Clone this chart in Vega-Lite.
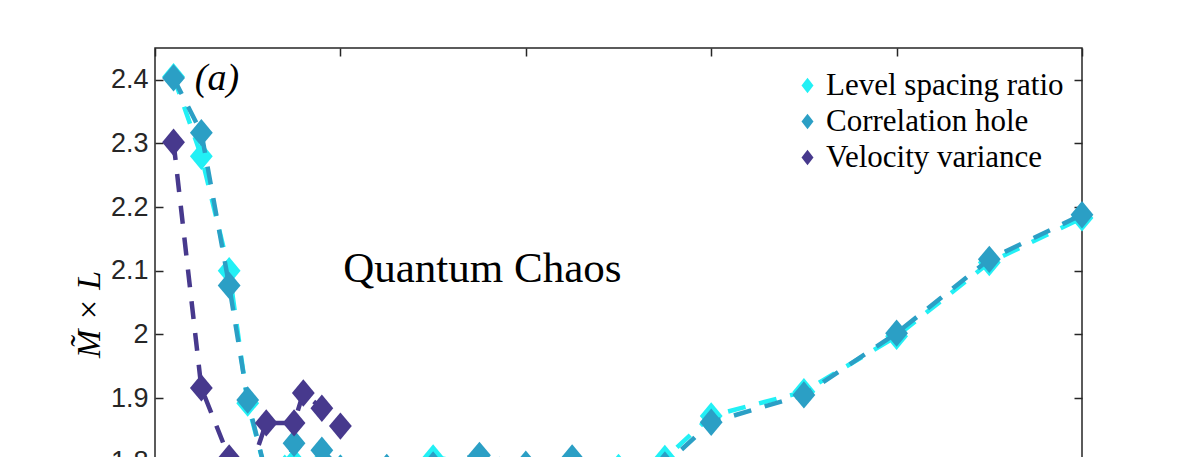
{
  "$schema": "https://vega.github.io/schema/vega-lite/v6.json",
  "width": 927,
  "height": 541,
  "autosize": {"type": "none"},
  "padding": {"left": 155, "top": 48, "right": 114, "bottom": 60},
  "background": "white",
  "config": {
    "view": {"stroke": "#262626", "strokeWidth": 1.5},
    "axis": {
      "grid": false,
      "domain": false,
      "tickSize": -8,
      "tickColor": "#262626",
      "tickWidth": 1.5,
      "labelFont": "Liberation Sans",
      "labelFontSize": 27,
      "labelColor": "#262626",
      "labelPadding": 15
    }
  },
  "datasets": {
    "series": [
      {"series": "Level spacing ratio", "x": 0.02, "y": 2.405},
      {"series": "Level spacing ratio", "x": 0.05, "y": 2.28},
      {"series": "Level spacing ratio", "x": 0.08, "y": 2.10},
      {"series": "Level spacing ratio", "x": 0.10, "y": 1.892},
      {"series": "Level spacing ratio", "x": 0.12, "y": 1.78},
      {"series": "Level spacing ratio", "x": 0.14, "y": 1.79},
      {"series": "Level spacing ratio", "x": 0.15, "y": 1.80},
      {"series": "Level spacing ratio", "x": 0.18, "y": 1.80},
      {"series": "Level spacing ratio", "x": 0.20, "y": 1.79},
      {"series": "Level spacing ratio", "x": 0.25, "y": 1.79},
      {"series": "Level spacing ratio", "x": 0.30, "y": 1.806},
      {"series": "Level spacing ratio", "x": 0.35, "y": 1.80},
      {"series": "Level spacing ratio", "x": 0.40, "y": 1.79},
      {"series": "Level spacing ratio", "x": 0.45, "y": 1.80},
      {"series": "Level spacing ratio", "x": 0.50, "y": 1.791},
      {"series": "Level spacing ratio", "x": 0.55, "y": 1.805},
      {"series": "Level spacing ratio", "x": 0.60, "y": 1.872},
      {"series": "Level spacing ratio", "x": 0.70, "y": 1.91},
      {"series": "Level spacing ratio", "x": 0.80, "y": 1.997},
      {"series": "Level spacing ratio", "x": 0.90, "y": 2.113},
      {"series": "Level spacing ratio", "x": 1.00, "y": 2.183},
      {"series": "Correlation hole", "x": 0.02, "y": 2.403},
      {"series": "Correlation hole", "x": 0.05, "y": 2.317},
      {"series": "Correlation hole", "x": 0.08, "y": 2.077},
      {"series": "Correlation hole", "x": 0.10, "y": 1.897},
      {"series": "Correlation hole", "x": 0.12, "y": 1.78},
      {"series": "Correlation hole", "x": 0.14, "y": 1.785},
      {"series": "Correlation hole", "x": 0.15, "y": 1.829},
      {"series": "Correlation hole", "x": 0.18, "y": 1.818},
      {"series": "Correlation hole", "x": 0.20, "y": 1.79},
      {"series": "Correlation hole", "x": 0.25, "y": 1.791},
      {"series": "Correlation hole", "x": 0.30, "y": 1.795},
      {"series": "Correlation hole", "x": 0.35, "y": 1.810},
      {"series": "Correlation hole", "x": 0.40, "y": 1.796},
      {"series": "Correlation hole", "x": 0.45, "y": 1.806},
      {"series": "Correlation hole", "x": 0.50, "y": 1.785},
      {"series": "Correlation hole", "x": 0.55, "y": 1.795},
      {"series": "Correlation hole", "x": 0.60, "y": 1.862},
      {"series": "Correlation hole", "x": 0.70, "y": 1.905},
      {"series": "Correlation hole", "x": 0.80, "y": 2.002},
      {"series": "Correlation hole", "x": 0.90, "y": 2.118},
      {"series": "Correlation hole", "x": 1.00, "y": 2.188},
      {"series": "Velocity variance", "x": 0.02, "y": 2.302},
      {"series": "Velocity variance", "x": 0.05, "y": 1.916},
      {"series": "Velocity variance", "x": 0.08, "y": 1.806},
      {"series": "Velocity variance", "x": 0.10, "y": 1.775},
      {"series": "Velocity variance", "x": 0.12, "y": 1.861},
      {"series": "Velocity variance", "x": 0.15, "y": 1.861},
      {"series": "Velocity variance", "x": 0.16, "y": 1.908},
      {"series": "Velocity variance", "x": 0.18, "y": 1.884},
      {"series": "Velocity variance", "x": 0.20, "y": 1.856}
    ],
    "notes": [
      {"label": "Quantum Chaos", "x": 0.203, "y": 2.082},
      {"label": "(a)", "x": 0.043, "y": 2.384}
    ]
  },
  "resolve": {"axis": {"x": "independent", "y": "independent"}},
  "layer": [
    {
      "data": {"name": "series"},
      "transform": [{"filter": "datum.series === 'Level spacing ratio'"}],
      "mark": {"type": "line", "strokeDash": [18, 14], "strokeWidth": 4.5},
      "encoding": {
        "x": {"field": "x", "type": "quantitative", "scale": {"domain": [0, 1], "nice": false, "zero": false},
              "axis": {"orient": "bottom", "values": [0, 0.2, 0.4, 0.6, 0.8, 1], "title": null}},
        "y": {"field": "y", "type": "quantitative", "scale": {"domain": [1.6, 2.45], "nice": false, "zero": false},
              "axis": {"orient": "left", "values": [1.6, 1.7, 1.8, 1.9, 2.0, 2.1, 2.2, 2.3, 2.4], "format": ".1~f",
                       "title": "M̃ × L", "titleFont": "Liberation Serif", "titleFontStyle": "italic", "titleFontWeight": "normal",
                       "titleFontSize": 34, "titleColor": "#000000", "titleX": -66, "titleY": 266, "titleAngle": -90,
                       "titleAlign": "center", "titleBaseline": "middle"}},
        "stroke": {"field": "series", "type": "nominal",
                  "scale": {"domain": ["Velocity variance", "Correlation hole", "Level spacing ratio"], "range": ["#47398D", "#2B9FC5", "#22F0F5"]},
                  "legend": null}
      }
    },
    {
      "data": {"name": "series"},
      "transform": [{"filter": "datum.series === 'Level spacing ratio'"}],
      "mark": {"type": "point", "shape": "M0,-1.2L1,0L0,1.2L-1,0Z", "filled": true, "size": 520, "opacity": 1, "strokeWidth": 0},
      "encoding": {
        "x": {"field": "x", "type": "quantitative",
              "axis": {"orient": "top", "values": [0, 0.2, 0.4, 0.6, 0.8, 1], "labels": false, "title": null}},
        "y": {"field": "y", "type": "quantitative",
              "axis": {"orient": "right", "values": [1.6, 1.7, 1.8, 1.9, 2.0, 2.1, 2.2, 2.3, 2.4], "labels": false, "title": null}},
        "color": {"field": "series", "type": "nominal",
                  "scale": {"domain": ["Level spacing ratio", "Correlation hole", "Velocity variance"], "range": ["#22F0F5", "#2B9FC5", "#47398D"]},
                  "legend": {
                    "title": null,
                    "orient": "none",
                    "legendX": 637,
                    "legendY": 22,
                    "padding": 0,
                    "labelFont": "Liberation Serif",
                    "labelFontSize": 31,
                    "labelColor": "#000000",
                    "labelLimit": 400,
                    "symbolType": "M0,-1.3L1,0L0,1.3L-1,0Z",
                    "symbolSize": 144,
                    "symbolStrokeWidth": 0,
                    "symbolOpacity": 1,
                    "rowPadding": 4,
                    "labelOffset": 3
                  }}
      }
    },
    {
      "data": {"name": "series"},
      "transform": [{"filter": "datum.series === 'Correlation hole'"}],
      "mark": {"type": "line", "strokeDash": [18, 14], "strokeWidth": 4.5},
      "encoding": {
        "x": {"field": "x", "type": "quantitative", "axis": null},
        "y": {"field": "y", "type": "quantitative", "axis": null},
        "stroke": {"field": "series", "type": "nominal", "legend": null}
      }
    },
    {
      "data": {"name": "series"},
      "transform": [{"filter": "datum.series === 'Correlation hole'"}],
      "mark": {"type": "point", "shape": "M0,-1.2L1,0L0,1.2L-1,0Z", "filled": true, "size": 520, "opacity": 1, "strokeWidth": 0},
      "encoding": {
        "x": {"field": "x", "type": "quantitative", "axis": null},
        "y": {"field": "y", "type": "quantitative", "axis": null},
        "color": {"field": "series", "type": "nominal"}
      }
    },
    {
      "data": {"name": "series"},
      "transform": [{"filter": "datum.series === 'Velocity variance'"}],
      "mark": {"type": "line", "strokeDash": [18, 14], "strokeWidth": 4.5},
      "encoding": {
        "x": {"field": "x", "type": "quantitative", "axis": null},
        "y": {"field": "y", "type": "quantitative", "axis": null},
        "stroke": {"field": "series", "type": "nominal", "legend": null}
      }
    },
    {
      "data": {"name": "series"},
      "transform": [{"filter": "datum.series === 'Velocity variance'"}],
      "mark": {"type": "point", "shape": "M0,-1.2L1,0L0,1.2L-1,0Z", "filled": true, "size": 520, "opacity": 1, "strokeWidth": 0},
      "encoding": {
        "x": {"field": "x", "type": "quantitative", "axis": null},
        "y": {"field": "y", "type": "quantitative", "axis": null},
        "color": {"field": "series", "type": "nominal"}
      }
    },
    {
      "data": {"name": "notes"},
      "transform": [{"filter": "datum.label === 'Quantum Chaos'"}],
      "mark": {"type": "text", "font": "Liberation Serif", "fontSize": 43, "align": "left", "baseline": "alphabetic", "color": "#000000"},
      "encoding": {
        "x": {"field": "x", "type": "quantitative", "axis": null},
        "y": {"field": "y", "type": "quantitative", "axis": null},
        "text": {"field": "label"}
      }
    },
    {
      "data": {"name": "notes"},
      "transform": [{"filter": "datum.label === '(a)'"}],
      "mark": {"type": "text", "font": "Liberation Serif", "fontStyle": "italic", "fontSize": 38, "align": "left", "baseline": "alphabetic", "color": "#000000"},
      "encoding": {
        "x": {"field": "x", "type": "quantitative", "axis": null},
        "y": {"field": "y", "type": "quantitative", "axis": null},
        "text": {"field": "label"}
      }
    }
  ]
}
